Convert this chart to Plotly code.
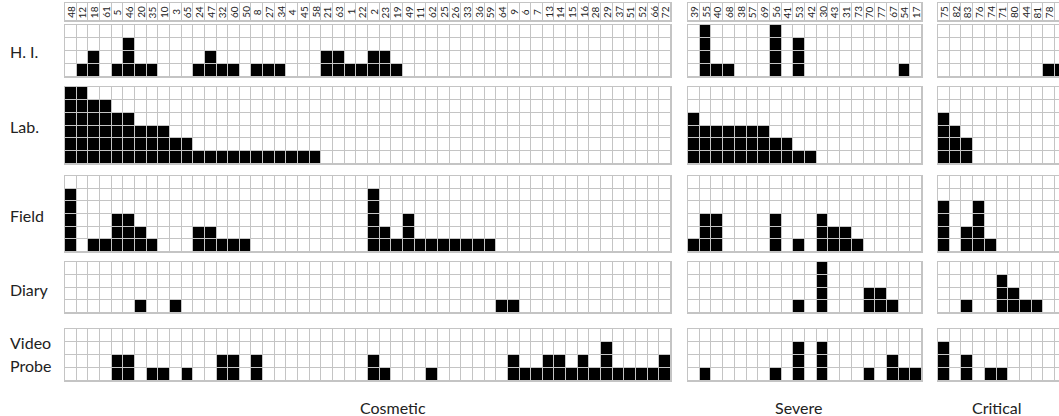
import plotly.graph_objects as go

# ---------------- data ----------------
cosmetic_ids = [48, 12, 18, 61, 5, 46, 20, 35, 10, 3, 65, 24, 47, 32, 60, 50, 8, 27, 34, 4,
                45, 58, 21, 63, 1, 22, 2, 23, 19, 49, 11, 62, 25, 26, 33, 36, 59, 64, 9, 6,
                7, 13, 14, 15, 16, 28, 29, 37, 51, 52, 66, 72]
severe_ids = [39, 55, 40, 68, 38, 57, 69, 56, 41, 53, 42, 30, 43, 31, 73, 70, 77, 67, 54, 17]
critical_ids = [75, 82, 83, 76, 74, 71, 80, 44, 81, 78, 79]

group_labels = ["Cosmetic", "Severe", "Critical"]
method_labels = ["H. I.", "Lab.", "Field", "Diary", "Video Probe"]
method_levels = [4, 6, 6, 4, 4]

hi_cosmetic = [0, 1, 2, 0, 1, 3, 1, 1, 0, 0, 0, 1, 2, 1, 1, 0, 1, 1, 1, 0,
               0, 0, 2, 2, 1, 1, 2, 2, 1, 0, 0, 0, 0, 0, 0, 0, 0, 0, 0, 0,
               0, 0, 0, 0, 0, 0, 0, 0, 0, 0, 0, 0]
hi_severe = [0, 4, 1, 1, 0, 0, 0, 4, 0, 3, 0, 0, 0, 0, 0, 0, 0, 0, 1, 0]
hi_critical = [0, 0, 0, 0, 0, 0, 0, 0, 0, 1, 1]

lab_cosmetic = [6, 6, 5, 5, 4, 4, 3, 3, 3, 2, 2, 1, 1, 1, 1, 1, 1, 1, 1, 1,
                1, 1, 0, 0, 0, 0, 0, 0, 0, 0, 0, 0, 0, 0, 0, 0, 0, 0, 0, 0,
                0, 0, 0, 0, 0, 0, 0, 0, 0, 0, 0, 0]
lab_severe = [4, 3, 3, 3, 3, 3, 3, 2, 2, 1, 1, 0, 0, 0, 0, 0, 0, 0, 0, 0]
lab_critical = [4, 3, 2, 0, 0, 0, 0, 0, 0, 0, 0]

field_cosmetic = [5, 0, 1, 1, 3, 3, 2, 1, 0, 0, 0, 2, 2, 1, 1, 1, 0, 0, 0, 0,
                  0, 0, 0, 0, 0, 0, 5, 2, 1, 3, 1, 1, 1, 1, 1, 1, 1, 0, 0, 0,
                  0, 0, 0, 0, 0, 0, 0, 0, 0, 0, 0, 0]
field_severe = [1, 3, 3, 0, 0, 0, 0, 3, 0, 1, 0, 3, 2, 2, 1, 0, 0, 0, 0, 0]
field_critical = [4, 0, 2, 4, 1, 0, 0, 0, 0, 0, 0]

diary_cosmetic = [0, 0, 0, 0, 0, 0, 1, 0, 0, 1, 0, 0, 0, 0, 0, 0, 0, 0, 0, 0,
                  0, 0, 0, 0, 0, 0, 0, 0, 0, 0, 0, 0, 0, 0, 0, 0, 0, 1, 1, 0,
                  0, 0, 0, 0, 0, 0, 0, 0, 0, 0, 0, 0]
diary_severe = [0, 0, 0, 0, 0, 0, 0, 0, 0, 1, 0, 4, 0, 0, 0, 2, 2, 1, 0, 0]
diary_critical = [0, 0, 1, 0, 0, 3, 2, 1, 1, 0, 0]

video_cosmetic = [0, 0, 0, 0, 2, 2, 0, 1, 1, 0, 1, 0, 0, 2, 2, 0, 2, 0, 0, 0,
                  0, 0, 0, 0, 0, 0, 2, 1, 0, 0, 0, 1, 0, 0, 0, 0, 0, 0, 2, 1,
                  1, 2, 2, 1, 2, 1, 3, 1, 1, 1, 1, 2]
video_severe = [0, 1, 0, 0, 0, 0, 0, 1, 0, 3, 0, 3, 0, 0, 0, 1, 0, 2, 1, 1]
video_critical = [3, 0, 2, 0, 1, 1, 0, 0, 0, 0, 0]

group_ids = [cosmetic_ids, severe_ids, critical_ids]
method_values = [
    [hi_cosmetic, hi_severe, hi_critical],
    [lab_cosmetic, lab_severe, lab_critical],
    [field_cosmetic, field_severe, field_critical],
    [diary_cosmetic, diary_severe, diary_critical],
    [video_cosmetic, video_severe, video_critical],
]

# ---------------- layout geometry (pixels) ----------------
W, H = 1059, 416
x_dom = [(65, 671), (688, 922), (938, 1059)]
cell_w = [606 / 52, 234 / 20, 11.7]
y_dom = [(3, 21), (25, 77), (87, 164), (176, 252), (262, 313), (329, 381)]
GRID = "#c4c4c4"
FONT = "Lato"

fig = go.Figure()
layout_axes = {}

for r in range(6):
    for g in range(3):
        k = r * 3 + g + 1
        xa = "x" if k == 1 else f"x{k}"
        ya = "y" if k == 1 else f"y{k}"
        ids = group_ids[g]
        n = len(ids)
        if r == 0:
            nlev = 1
            z = [[0] * n]
        else:
            nlev = method_levels[r - 1]
            vals = method_values[r - 1][g]
            z = [[1 if v > lev else 0 for v in vals] for lev in range(nlev)]
        fig.add_trace(go.Heatmap(
            z=z, x=list(range(n)), y=list(range(nlev)),
            xaxis=xa, yaxis=ya,
            colorscale=[[0, "white"], [1, "black"]], zmin=0, zmax=1,
            showscale=False, xgap=1, ygap=1, hoverinfo="skip"))
        x0, x1 = x_dom[g]
        xr_end = -0.5 + (x1 - x0) / cell_w[g]
        y0, y1 = y_dom[r]
        common = dict(showticklabels=False, ticks="", showgrid=False, zeroline=False,
                      showline=True, mirror=True, linecolor=GRID, linewidth=1,
                      fixedrange=True)
        layout_axes["xaxis" if k == 1 else f"xaxis{k}"] = dict(
            domain=[x0 / W, min(x1 / W, 1.0)], range=[-0.5, xr_end], anchor=ya, **common)
        layout_axes["yaxis" if k == 1 else f"yaxis{k}"] = dict(
            domain=[1 - y1 / H, 1 - y0 / H], range=[-0.5, nlev - 0.5], anchor=xa, **common)
        if r == 0:
            for j, iid in enumerate(ids):
                fig.add_annotation(x=j, y=0, xref=xa, yref=ya, text=str(iid),
                                   textangle=-90, showarrow=False,
                                   font=dict(family=FONT, size=10, color="#222"))

fig.update_layout(**layout_axes)

# row labels
label_y = {"H. I.": 51, "Lab.": 126, "Field": 215, "Diary": 289}
for name, py in label_y.items():
    fig.add_annotation(x=8 / W, y=1 - py / H, xref="paper", yref="paper", text=name,
                       xanchor="left", yanchor="middle", showarrow=False,
                       font=dict(family=FONT, size=16, color="#222"))
for part, py in zip(method_labels[4].split(" "), [342, 365]):
    fig.add_annotation(x=8 / W, y=1 - py / H, xref="paper", yref="paper", text=part,
                       xanchor="left", yanchor="middle", showarrow=False,
                       font=dict(family=FONT, size=16, color="#222"))

# group labels
for name, px in zip(group_labels, [393, 798, 997]):
    fig.add_annotation(x=px / W, y=1 - 407 / H, xref="paper", yref="paper", text=name,
                       xanchor="center", yanchor="middle", showarrow=False,
                       font=dict(family=FONT, size=16, color="#222"))

fig.update_layout(width=W, height=H, margin=dict(l=0, r=0, t=0, b=0),
                  paper_bgcolor="white", plot_bgcolor=GRID, showlegend=False)

fig.write_html("out.html", config={"displayModeBar": False})
